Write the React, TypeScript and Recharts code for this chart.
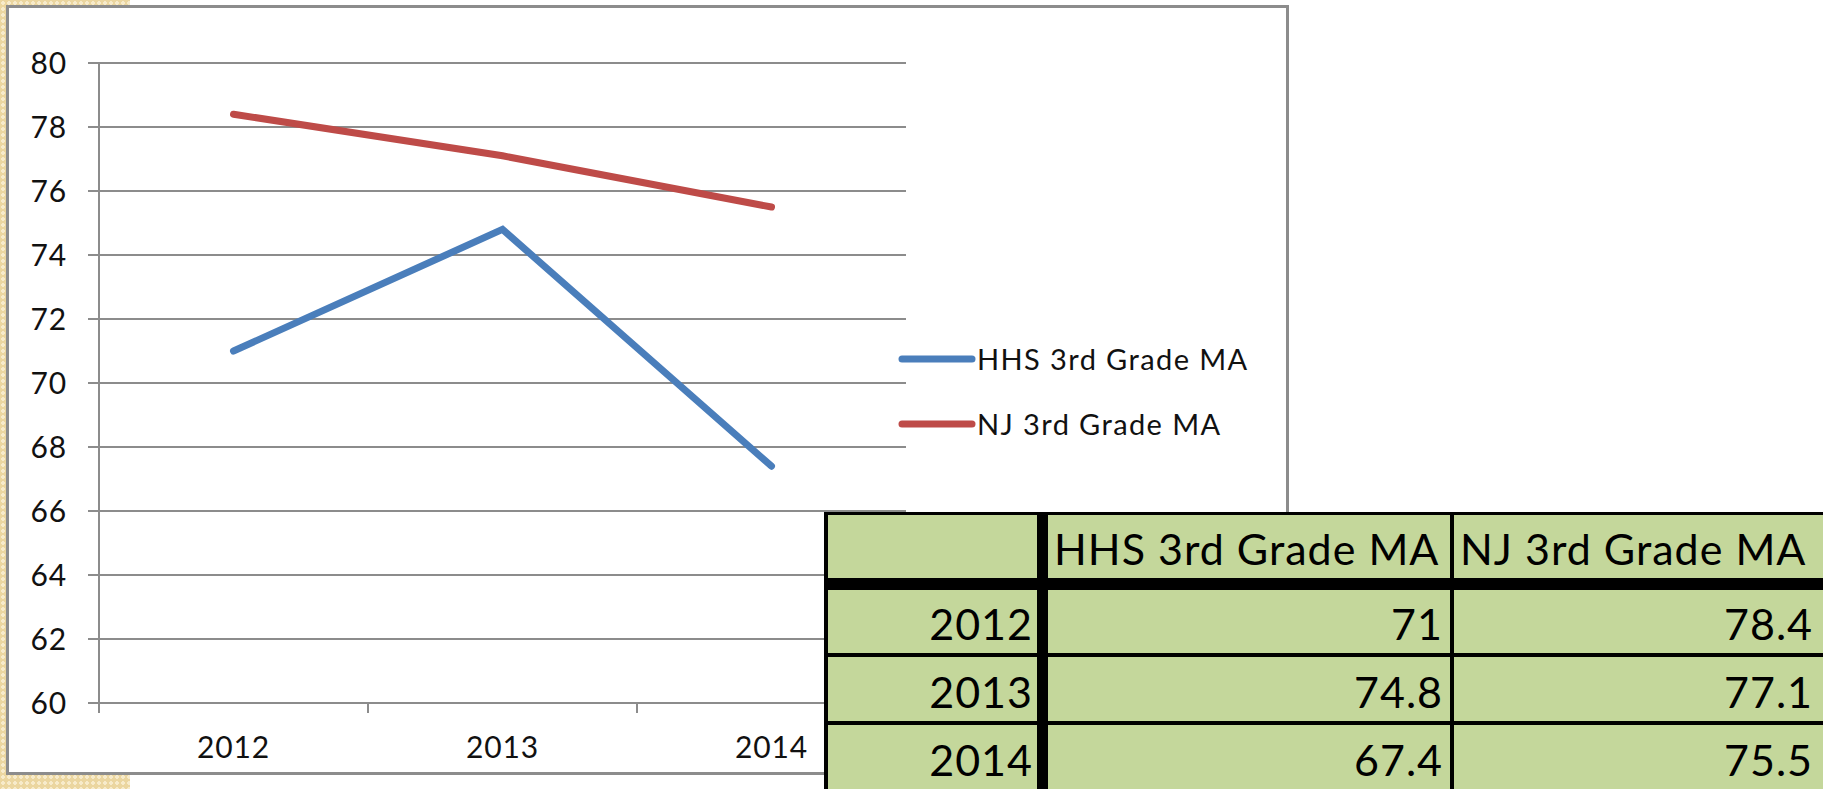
import React from 'react';
import { LineChart, Line, XAxis, YAxis, CartesianGrid, Legend } from 'recharts';

// data (it also sits in the table)
const years = ['2012', '2013', '2014'];
const hhsValues = [71, 74.8, 67.4];
const njValues = [78.4, 77.1, 75.5];
const seriesNames = ['HHS 3rd Grade MA', 'NJ 3rd Grade MA'];
const yTicks = [60, 62, 64, 66, 68, 70, 72, 74, 76, 78, 80];

const chartData = years.map((year, i) => ({ year, hhs: hhsValues[i], nj: njValues[i] }));

const FONT = 'Lato, "Open Sans", sans-serif';
const GRID = '#8c8c8c';
const BLUE = '#4A7EBB';
const RED = '#BE4B48';
const GREEN = '#C4D79B';
const INK = '#111';

// layout of the chart box
const CHART_W = 1290;
const CHART_H = 776;
const PLOT_LEFT = 99;
const PLOT_RIGHT = 906;
const PLOT_TOP = 63;
const PLOT_BOTTOM = 703;
const X_AXIS_H = 60;
const BAND = (PLOT_RIGHT - PLOT_LEFT) / years.length;

// layout of the table pasted over the corner
const TABLE_COLS = [
  { x0: 828, x1: 1037, padR: 4 },
  { x0: 1048, x1: 1450, padR: 7 },
  { x0: 1454, x1: 1830, padR: 17 },
];
const TABLE_ROWS = [
  [515, 578],
  [590, 653],
  [657, 721],
  [725, 810],
];

// Excel style category ticks sit between the categories, not under them
function YearTick(props: any) {
  const { x, payload, index } = props;
  const half = BAND / 2;
  return (
    <g>
      <line x1={x - half} x2={x - half} y1={PLOT_BOTTOM} y2={PLOT_BOTTOM + 10} stroke={GRID} strokeWidth={2} />
      {index === years.length - 1 && (
        <line x1={x + half} x2={x + half} y1={PLOT_BOTTOM} y2={PLOT_BOTTOM + 10} stroke={GRID} strokeWidth={2} />
      )}
      <text
        x={x}
        y={PLOT_BOTTOM + 34}
        dy="0.71em"
        textAnchor="middle"
        fontSize={30}
        letterSpacing={0.8}
        fill={INK}
        fontFamily={FONT}
      >
        {payload.value}
      </text>
    </g>
  );
}

function LegendContent({ payload }: any) {
  return (
    <div>
      {(payload || []).map((entry: any) => (
        <div key={entry.value} style={{ display: 'flex', alignItems: 'center', height: 65 }}>
          <svg width={78} height={10}>
            <line x1={4} x2={74} y1={5} y2={5} stroke={entry.color} strokeWidth={7} strokeLinecap="round" />
          </svg>
          <span
            style={{
              fontSize: 29,
              letterSpacing: 1.4,
              fontFamily: FONT,
              color: INK,
              marginLeft: 1,
              whiteSpace: 'nowrap',
            }}
          >
            {entry.value}
          </span>
        </div>
      ))}
    </div>
  );
}

function DataTable() {
  const rows = [
    ['', seriesNames[0], seriesNames[1]],
    ...years.map((y, i) => [y, String(hhsValues[i]), String(njValues[i])]),
  ];
  return (
    <>
      <div style={{ position: 'absolute', left: 824, top: 512, width: 1100, height: 400, background: '#000' }} />
      {rows.map((row, r) =>
        row.map((cell, c) => {
          const col = TABLE_COLS[c];
          const [y0, y1] = TABLE_ROWS[r];
          const isHeader = r === 0;
          return (
            <div
              key={`${r}-${c}`}
              style={{
                position: 'absolute',
                left: col.x0,
                top: y0,
                width: col.x1 - col.x0,
                height: y1 - y0,
                background: GREEN,
                boxSizing: 'border-box',
                display: 'flex',
                alignItems: r === 3 ? 'flex-start' : 'center',
                justifyContent: isHeader ? 'flex-start' : 'flex-end',
                paddingLeft: isHeader ? 6 : 0,
                paddingRight: isHeader ? 0 : col.padR,
                paddingTop: r === 3 ? 13 : 4,
                fontFamily: FONT,
                fontSize: 43,
                letterSpacing: 1,
                lineHeight: '43px',
                color: '#000',
                whiteSpace: 'nowrap',
              }}
            >
              {cell}
            </div>
          );
        })
      )}
    </>
  );
}

export default function App() {
  return (
    <div
      style={{
        position: 'absolute',
        left: 0,
        top: 0,
        width: 1823,
        height: 789,
        overflow: 'hidden',
        background: '#fff',
        fontFamily: FONT,
      }}
    >
      {/* beige slide edge */}
      <div
        style={{
          position: 'absolute',
          left: 0,
          top: 0,
          width: 130,
          height: 789,
          backgroundColor: '#EBD6A0',
          backgroundImage: 'radial-gradient(circle, #F7EBCB 1.6px, transparent 1.8px)',
          backgroundSize: '6px 6px',
        }}
      />
      {/* chart frame */}
      <div
        style={{
          position: 'absolute',
          left: 6,
          top: 5,
          width: 1283,
          height: 770,
          border: `3px solid ${GRID}`,
          boxSizing: 'border-box',
          background: '#fff',
        }}
      />
      <div style={{ position: 'absolute', left: 0, top: 0 }}>
        <LineChart
          width={CHART_W}
          height={CHART_H}
          data={chartData}
          margin={{ top: PLOT_TOP, left: 0, right: CHART_W - PLOT_RIGHT, bottom: CHART_H - PLOT_BOTTOM - X_AXIS_H }}
        >
          <CartesianGrid vertical={false} stroke={GRID} strokeWidth={2} />
          <XAxis
            dataKey="year"
            height={X_AXIS_H}
            padding={{ left: BAND / 2, right: BAND / 2 }}
            axisLine={{ stroke: GRID, strokeWidth: 2 }}
            tickLine={false}
            interval={0}
            tick={(p: any) => <YearTick {...p} />}
          />
          <YAxis
            width={PLOT_LEFT}
            domain={[60, 80]}
            ticks={yTicks}
            interval={0}
            tickSize={11}
            tickMargin={21}
            axisLine={{ stroke: GRID, strokeWidth: 2 }}
            tickLine={{ stroke: GRID, strokeWidth: 2 }}
            tick={{ fontSize: 30, fill: INK, fontFamily: FONT, letterSpacing: 0.8 }}
          />
          <Legend
            layout="vertical"
            align="center"
            verticalAlign="middle"
            wrapperStyle={{ left: 898, top: 326, width: 380 }}
            content={(p: any) => <LegendContent {...p} />}
          />
          <Line
            type="linear"
            dataKey="hhs"
            name={seriesNames[0]}
            stroke={BLUE}
            strokeWidth={7}
            strokeLinecap="round"
            dot={false}
            activeDot={false}
            isAnimationActive={false}
          />
          <Line
            type="linear"
            dataKey="nj"
            name={seriesNames[1]}
            stroke={RED}
            strokeWidth={7}
            strokeLinecap="round"
            dot={false}
            activeDot={false}
            isAnimationActive={false}
          />
        </LineChart>
      </div>
      <DataTable />
    </div>
  );
}
